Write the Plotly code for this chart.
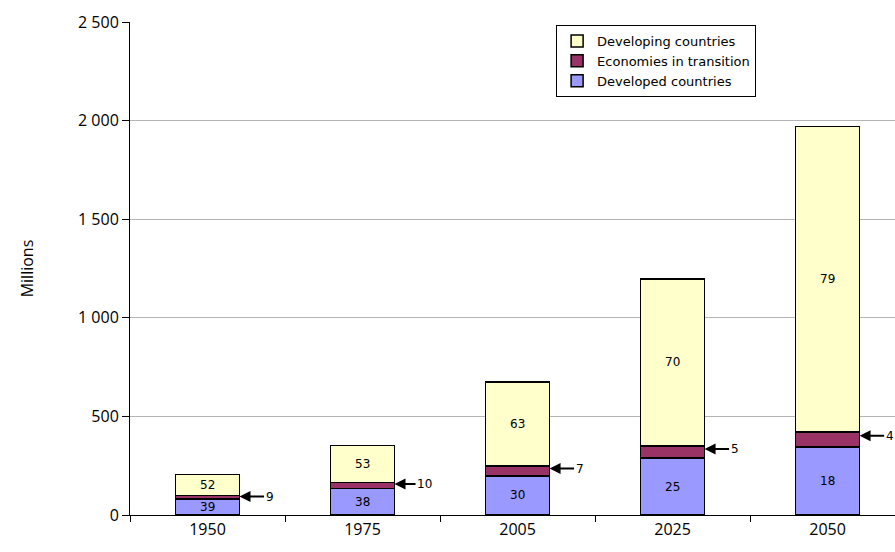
import plotly.graph_objects as go

years = ["1950", "1975", "2005", "2025", "2050"]
developed = [80, 135, 198, 289, 345]
transition = [18, 30, 50, 61, 76]
developing = [107, 188, 426, 847, 1550]
pct_developed = ["39", "38", "30", "25", "18"]
pct_transition = ["9", "10", "7", "5", "4"]
pct_developing = ["52", "53", "63", "70", "79"]

FONT = "DejaVu Sans"
AXFONT = "Open Sans"
BAR_W = 0.413
line = dict(color="black", width=1.5)

fig = go.Figure()
fig.add_trace(go.Bar(x=years, y=developed, name="Developed countries", legendgroup="a",
                     marker=dict(color="#9999FF", line=line), width=BAR_W))
fig.add_trace(go.Bar(x=years, y=transition, name="Economies in transition", legendgroup="b",
                     marker=dict(color="#993366", line=line), width=BAR_W))
fig.add_trace(go.Bar(x=years, y=developing, name="Developing countries", legendgroup="c",
                     marker=dict(color="#FFFFCC", line=line), width=BAR_W))

annotations = []
lab_font = dict(family=FONT, size=12, color="black")
for i, yr in enumerate(years):
    d, t, g = developed[i], transition[i], developing[i]
    annotations.append(dict(x=i, y=d / 2, xref="x", yref="y", text=pct_developed[i],
                            showarrow=False, font=lab_font))
    annotations.append(dict(x=i, y=d + t + g / 2, xref="x", yref="y", text=pct_developing[i],
                            showarrow=False, font=lab_font))
    annotations.append(dict(x=i + BAR_W / 2, y=d + t * 0.75, xref="x", yref="y",
                            text=pct_transition[i], showarrow=True,
                            arrowhead=2, arrowsize=1.1, arrowwidth=2, arrowcolor="black",
                            ax=30, ay=0, font=lab_font))

fig.update_layout(
    width=895, height=552,
    barmode="stack",
    separators=". ",
    plot_bgcolor="white", paper_bgcolor="white",
    margin=dict(l=130, r=0, t=22, b=37),
    font=dict(family=AXFONT, size=16, color="black"),
    legend=dict(x=0.557, y=0.994, xanchor="left", yanchor="top",
                traceorder="reversed", tracegroupgap=3,
                bordercolor="black", borderwidth=1,
                bgcolor="white", font=dict(family=FONT, size=13)),
    annotations=annotations,
    showlegend=True,
)
fig.update_xaxes(type="category", range=[-0.5, 4.435], showline=True, linecolor="black",
                 linewidth=1, ticks="outside", tickson="boundaries", ticklen=6,
                 tickcolor="black", showgrid=False,
                 tickfont=dict(family=AXFONT, size=16))
fig.update_yaxes(range=[0, 2500], tickvals=[0, 500, 1000, 1500, 2000, 2500],
                 tickformat=",d", showline=True, linecolor="black", linewidth=1,
                 ticks="outside", ticklen=7, tickcolor="black",
                 showgrid=True, gridcolor="#B4B4B4", gridwidth=1,
                 zeroline=False, tickfont=dict(family=AXFONT, size=16),
                 title=dict(text="Millions", font=dict(family=AXFONT, size=16), standoff=40))

fig.write_html("out.html")
